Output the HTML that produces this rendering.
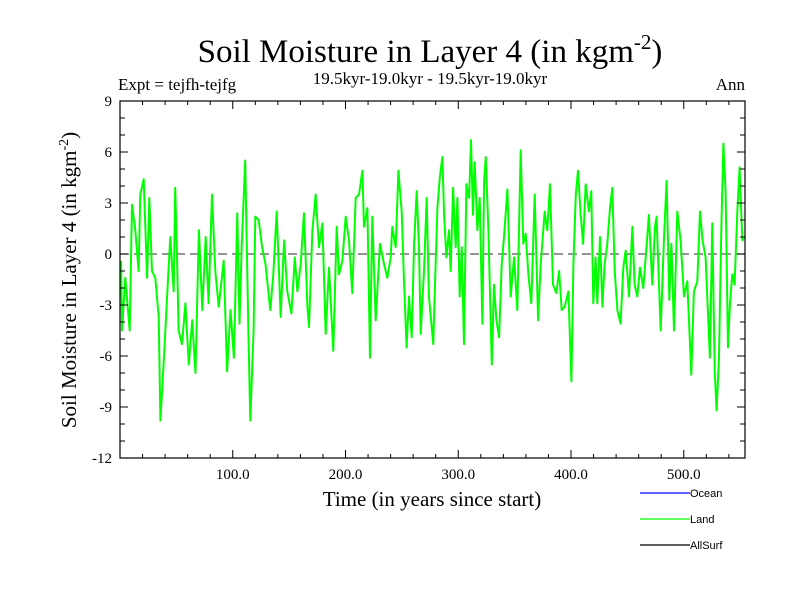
<!DOCTYPE html>
<html><head><meta charset="utf-8"><style>
html,body{margin:0;padding:0;background:#fff;}
svg{display:block;font-family:"Liberation Serif",serif;}
</style></head><body>
<svg id="chart" width="800" height="600" viewBox="0 0 800 600" xmlns="http://www.w3.org/2000/svg">
<rect width="800" height="600" fill="#fff"/>
<text x="430" y="62" font-size="33" text-anchor="middle">Soil Moisture in Layer 4 (in kgm<tspan dy="-13" font-size="21">-2</tspan><tspan dy="13">)</tspan></text>
<text x="118" y="90" font-size="17">Expt = tejfh-tejfg</text>
<text x="430" y="84" font-size="17" text-anchor="middle">19.5kyr-19.0kyr - 19.5kyr-19.0kyr</text>
<text x="745" y="90" font-size="17" text-anchor="end">Ann</text>
<text x="432" y="506" font-size="21" text-anchor="middle">Time (in years since start)</text>
<text transform="translate(76,280) rotate(-90)" font-size="21" text-anchor="middle">Soil Moisture in Layer 4 (in kgm<tspan dy="-8" font-size="14">-2</tspan><tspan dy="8">)</tspan></text>
<g id="plot"></g>
<g font-family="Liberation Sans, sans-serif" font-size="11">
<line x1="640" y1="493" x2="690" y2="493" stroke="#0000ff" stroke-width="1.3"/>
<text x="690" y="497">Ocean</text>
<line x1="640" y1="519" x2="690" y2="519" stroke="#00ff00" stroke-width="1.3"/>
<text x="690" y="523">Land</text>
<line x1="640" y1="545" x2="690" y2="545" stroke="#000" stroke-width="1.3"/>
<text x="690" y="549">AllSurf</text>
</g>
</svg>
<script>
const years = [1,1.8,4.7,8.6,10.6,13.6,16.5,18,21,24,26,28.4,31.3,34.3,35.8,38.7,41.7,44.6,47.6,49,50.5,52,55,58,61,64,67,70,73,76,78.6,81.6,84.5,87.5,92,95,98,101,104,106,108,111,114,115.6,118.5,120,123,126,129,133.3,136,139,
142.5,145.5,148.4,152,155,157.3,160.3,163.2,166.2,167.6,170.6,173.6,176.5,179.5,182.4,185.4,189.2,192.2,194.2,197.2,200.2,203.1,206,209,212,215,216.4,219.4,221.7,223.8,226.8,230.6,234.2,237.1,240.1,241.5,244.5,246.9,249.8,251.9,254.2,256.3,258.7,260.8,263.1,265.2,266.7,269.6,272,274,277.9,
278.5,281.5,283.6,285.9,287.4,289.5,291.8,293.3,295.4,297.7,299.2,301.3,303.1,305.1,307.2,309.6,311.3,313.1,314.6,317,319,321.4,322.9,324.4,326.7,329.7,331.7,333.8,336.2,338.5,340.6,343.6,346.5,349.5,352.4,355.4,357.7,359.8,362.2,364.8,367.8,370.8,373.1,376.7,379,381.4,384,387,389.4,391.7,394.4,397.7,400.3,402.1,404.2,406.2,408.6,410.7,413,
415.9,418,419.8,421.8,423.3,425.7,427.8,429.8,432.2,434.6,436.6,438.7,441.1,444,446.4,448.5,451.4,454.4,456.4,458.8,461.2,464.1,466.2,469.1,472.1,474.5,475.9,478,479.5,482.4,484.8,487.2,489,491.3,494.3,497.2,500.2,503.1,506.7,509,512,514.4,516.7,519.4,521.5,523.2,525.3,527.4,529.1,531.2,533.3,535.1,537.1,539.2,541,543,545.1,547.5,549.5,551.9,553.4];
const landValues = [-0.4,-4.5,-1.4,-4.5,2.9,1.4,-1.0,3.5,4.4,-1.4,3.3,-1.0,-1.4,-3.7,-9.8,-6.5,-2.6,1.0,-2.2,3.9,0.2,-4.5,-5.3,-2.9,-6.5,-3.9,-7.0,1.4,-3.3,1.0,-2.9,3.5,-1.0,-3.1,-0.4,-6.9,-3.3,-6.1,2.4,-4.1,0.6,5.5,-4.9,-9.8,-4.5,2.2,2.0,0.4,-0.6,-3.3,-1.2,2.5,
-3.7,0.8,-2.2,-3.5,-0.2,-2.2,-0.6,2.4,-3.1,-4.3,1.4,3.5,0.4,1.8,-4.7,-0.8,-5.7,1.6,-1.2,-0.4,2.2,0.8,-2.3,3.3,3.5,4.9,1.6,2.7,-6.1,2.2,-3.9,0.6,-0.6,-1.4,-0.2,1.6,0.4,4.9,2.5,-1.6,-5.5,-2.5,-4.9,0.6,3.7,0.4,-4.7,-1.0,3.3,-2.5,-5.3,
-3.7,2.7,4.5,5.7,2.3,-0.2,1.4,-1.0,3.9,0.4,3.3,-2.5,0.4,-5.3,4.1,3.3,6.7,2.3,5.4,1.4,3.3,-4.1,4.3,5.7,1.4,-6.5,-1.8,-3.9,-4.9,-0.6,1.0,3.8,-2.5,-0.2,-3.3,6.1,0.6,1.2,-1.2,-2.9,3.5,-3.9,-0.6,2.5,1.4,4.1,-1.8,-2.3,-1.0,-3.3,-3.1,-2.2,-7.5,-0.6,3.5,4.9,2.3,0.6,4.1,
2.5,3.7,-2.9,-0.2,-2.9,1.0,-3.1,-0.6,0.6,2.7,3.9,-1.0,-3.3,-4.1,-0.8,0.2,-2.5,1.6,-1.8,-2.5,-0.8,-2.0,-0.2,2.3,-1.8,1.6,2.2,-1.8,-4.5,0.8,4.3,-2.7,0.6,-4.5,2.5,0.8,-2.5,-1.6,-7.1,-2.2,-1.6,2.5,0.8,-0.2,-3.5,-6.1,1.8,-6.9,-9.2,-6.1,1.4,6.5,3.7,-5.5,-2.9,-1.2,-1.8,2.5,5.1,0.8,1.0];
const yTickValues = [9,6,3,0,-3,-6,-9,-12];
const yTickLabels = ["9","6","3","0","-3","-6","-9","-12"];
const xTickValues = [100,200,300,400,500];
const xTickLabels = ["100.0","200.0","300.0","400.0","500.0"];

const L=120, R=745, T=101, B=458;
const X0=0, X1=554.3, Y0=-12, Y1=9;
function sx(v){return L+(v-X0)/(X1-X0)*(R-L);}
function sy(v){return B-(v-Y0)/(Y1-Y0)*(B-T);}
const NS="http://www.w3.org/2000/svg";
const g=document.getElementById('plot');
function mk(tag,attrs,parent){const e=document.createElementNS(NS,tag);for(const k in attrs)e.setAttribute(k,attrs[k]);(parent||g).appendChild(e);return e;}

const zl=mk('line',{x1:L,x2:R,y1:sy(0),y2:sy(0),stroke:'#555','stroke-width':1.2,'stroke-dasharray':'9,5'});



let d='';
for(let i=0;i<years.length;i++){d+=(i?'L':'M')+sx(years[i]).toFixed(1)+','+sy(landValues[i]).toFixed(1);}
const ln=mk('path',{d:d,fill:'none',stroke:'#00ff00','stroke-width':2,'stroke-linejoin':'round'});



const fr=mk('rect',{x:L,y:T,width:R-L,height:B-T,fill:'none',stroke:'#000','stroke-width':1.2});



for(let v=Y0;v<=Y1;v++){
  const major = yTickValues.indexOf(v)>=0;
  const len = major?8:5;
  const t1=mk('line',{x1:L,x2:L+len,y1:sy(v),y2:sy(v),stroke:'#000','stroke-width':1});
  
  
  const t2=mk('line',{x1:R,x2:R-len,y1:sy(v),y2:sy(v),stroke:'#000','stroke-width':1});
  
  
}
yTickValues.forEach((v,i)=>{
  const t=mk('text',{x:L-8,y:sy(v)+5,'font-size':15,'text-anchor':'end'});
  t.textContent=yTickLabels[i];
  
  
});
for(let v=20;v<X1;v+=20){
  const major = xTickValues.indexOf(v)>=0;
  const len = major?8:4;
  const t1=mk('line',{x1:sx(v),x2:sx(v),y1:B,y2:B-len,stroke:'#000','stroke-width':1});
  
  
  const t2=mk('line',{x1:sx(v),x2:sx(v),y1:T,y2:T+len,stroke:'#000','stroke-width':1});
  
  
}
xTickValues.forEach((v,i)=>{
  const t=mk('text',{x:sx(v),y:B+21,'font-size':15,'text-anchor':'middle'});
  t.textContent=xTickLabels[i];
  
  
});
</script>
</body></html>
